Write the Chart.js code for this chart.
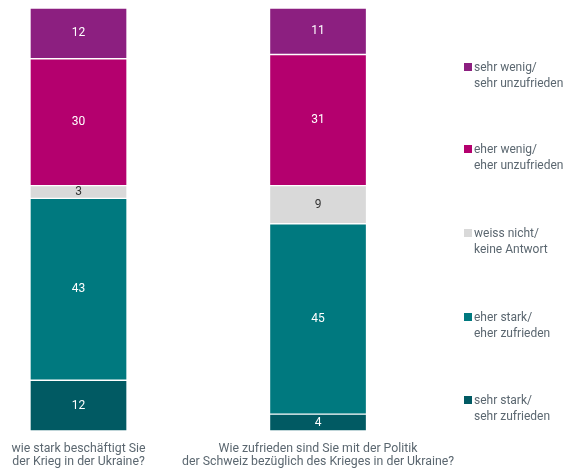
<!DOCTYPE html>
<html lang="de">
<head>
<meta charset="utf-8">
<title>Krieg in der Ukraine</title>
<script src="https://cdn.jsdelivr.net/npm/chart.js@4.4.1/dist/chart.umd.min.js"></script>
<style>
    html, body { margin: 0; padding: 0; background: #fff; }
    #wrap { position: relative; width: 570px; height: 473px; }
    #chart { position: absolute; left: 0; top: 0; }
    #legend { position: absolute; left: 464px; top: 0; font-family: Roboto, sans-serif; font-size: 12px; color: #5b6770; }
    .leg-item { position: absolute; left: 0; white-space: nowrap; line-height: 16px; }
    .leg-box { position: absolute; left: 0; top: 4px; width: 8px; height: 8px; }
    .leg-text { position: absolute; left: 10px; top: 0; }
</style>
</head>
<body>
<div id="wrap">
    <canvas id="chart" width="570" height="473"></canvas>
    <div id="legend"></div>
</div>
<script>
// Fragen (Kategorien)
const questions = [
    ['wie stark beschäftigt Sie', 'der Krieg in der Ukraine?'],
    ['Wie zufrieden sind Sie mit der Politik', 'der Schweiz bezüglich des Krieges in der Ukraine?']
];

// Antwortkategorien, von unten nach oben gestapelt
const answers = [
    ['sehr stark/', 'sehr zufrieden'],
    ['eher stark/', 'eher zufrieden'],
    ['weiss nicht/', 'keine Antwort'],
    ['eher wenig/', 'eher unzufrieden'],
    ['sehr wenig/', 'sehr unzufrieden']
];
const answerColors = ['#015a63', '#00797f', '#d9d9d9', '#b4006e', '#8c1f80'];
const labelColors = ['#ffffff', '#ffffff', '#333333', '#ffffff', '#ffffff'];

// Prozentwerte je Antwort (Frage 1, Frage 2)
const sehrStark = [12, 4];
const eherStark = [43, 45];
const weissNicht = [3, 9];
const eherWenig = [30, 31];
const sehrWenig = [12, 11];
const values = [sehrStark, eherStark, weissNicht, eherWenig, sehrWenig];

const FONT = 'Roboto, sans-serif';

// Zahlen in die Segmente schreiben
const valueLabels = {
    id: 'valueLabels',
    afterDatasetsDraw(chart) {
        const ctx = chart.ctx;
        ctx.save();
        ctx.font = '12px ' + FONT;
        ctx.textAlign = 'center';
        ctx.textBaseline = 'middle';
        chart.data.datasets.forEach((ds, i) => {
            const meta = chart.getDatasetMeta(i);
            meta.data.forEach((bar, j) => {
                const v = ds.data[j].y;
                const props = bar.getProps(['x', 'y', 'base'], true);
                ctx.fillStyle = labelColors[i];
                ctx.fillText(v, props.x, (props.y + props.base) / 2);
            });
        });
        ctx.restore();
    }
};

const datasets = answers.map((label, i) => ({
    label: label.join(' '),
    data: values[i].map((v, j) => ({ x: j, y: v })),
    backgroundColor: answerColors[i],
    borderColor: 'rgba(255,255,255,0.35)',
    borderWidth: 1,
    borderSkipped: false,
    barThickness: 97
}));

new Chart(document.getElementById('chart'), {
    type: 'bar',
    data: { datasets: datasets },
    options: {
        responsive: false,
        animation: false,
        layout: { padding: { top: 8, left: 0, right: 0, bottom: 4 } },
        plugins: {
            legend: { display: false },
            tooltip: { enabled: false }
        },
        scales: {
            x: {
                type: 'linear',
                stacked: true,
                offset: false,
                min: -0.3278,
                max: 2.052,
                grid: { display: false, drawTicks: false },
                border: { display: false },
                // nur bei den beiden Balken beschriften
                afterBuildTicks: (scale) => {
                    scale.ticks = questions.map((q, i) => ({ value: i }));
                },
                afterFit: (scale) => {
                    scale.height = 38;
                },
                ticks: {
                    autoSkip: false,
                    maxRotation: 0,
                    padding: 11,
                    color: '#5b6770',
                    font: { family: FONT, size: 12.3, lineHeight: 1.1 },
                    callback: (v) => questions[v] || ''
                }
            },
            y: {
                stacked: true,
                min: 0,
                max: 100,
                display: false
            }
        }
    },
    plugins: [valueLabels]
});

// Legende rechts, oben beginnend mit "sehr wenig"
const legendTops = [59, 141, 225, 309, 392];
const legend = document.getElementById('legend');
answers.slice().reverse().forEach((label, k) => {
    const i = answers.length - 1 - k;
    const item = document.createElement('div');
    item.className = 'leg-item';
    item.style.top = legendTops[k] + 'px';
    item.innerHTML = '<span class="leg-box" style="background:' + answerColors[i] + '"></span>' +
        '<span class="leg-text">' + label.join('<br>') + '</span>';
    legend.appendChild(item);
});
</script>
</body>
</html>
